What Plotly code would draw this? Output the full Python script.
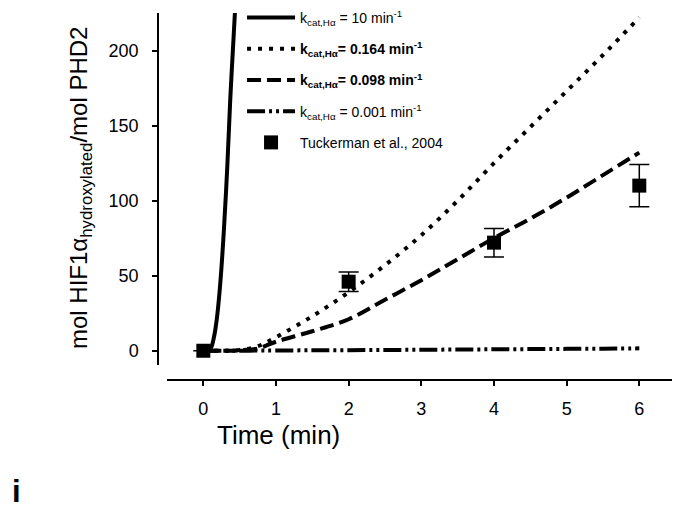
import plotly.graph_objects as go

# ---- data ----
t_fast = [0, 0.05, 0.10, 0.15, 0.19, 0.23, 0.28, 0.33, 0.37, 0.42, 0.44]
y_fast = [0, 0.2, 1.5, 10, 23, 43, 78, 123, 167, 212, 230]

t_curve = [0, 0.25, 0.5, 0.75, 1, 1.5, 2, 2.5, 3, 3.5, 4, 4.5, 5, 5.5, 6]
y_0164 = [0, 0, 0.5, 3, 9, 23, 39, 57, 77, 100, 125, 149, 173, 197, 222]
y_0098 = [0, 0, 0.3, 1.5, 6, 13, 21, 34, 47, 61, 75, 88, 102, 117, 132]
y_0001 = [0, 0, 0.05, 0.1, 0.15, 0.3, 0.4, 0.5, 0.65, 0.8, 0.95, 1.1, 1.25, 1.4, 1.6]

t_exp = [0, 2, 4, 6]
y_exp = [0, 46, 72, 110]
err_exp = [None, 6.5, 9.5, 14]

x_ticks = [0, 1, 2, 3, 4, 5, 6]
y_ticks = [0, 50, 100, 150, 200]

labels = [
    "k<sub>cat,Hα</sub> = 10 min<sup>-1</sup>",
    "<b>k<sub>cat,Hα</sub>= 0.164 min<sup>-1</sup></b>",
    "<b>k<sub>cat,Hα</sub>= 0.098 min<sup>-1</sup></b>",
    "k<sub>cat,Hα</sub> = 0.001 min<sup>-1</sup>",
    "Tuckerman et al., 2004",
]

FONT = "Arial, Liberation Sans, sans-serif"
W, H = 678, 512

fig = go.Figure()
fig.add_trace(go.Scatter(x=t_fast, y=y_fast, mode="lines", name=labels[0], legendgroup="a",
                         line=dict(color="black", width=4, shape="spline")))
fig.add_trace(go.Scatter(x=t_curve, y=y_0164, mode="lines", name=labels[1], legendgroup="b",
                         line=dict(color="black", width=4, dash="4px,7px", shape="spline")))
fig.add_trace(go.Scatter(x=t_curve, y=y_0098, mode="lines", name=labels[2], legendgroup="c",
                         line=dict(color="black", width=4, dash="14px,6px", shape="spline")))
fig.add_trace(go.Scatter(x=t_curve, y=y_0001, mode="lines", name=labels[3], legendgroup="d",
                         line=dict(color="black", width=4, dash="18px,4px,3px,4px,3px,4px", shape="spline")))
fig.add_trace(go.Scatter(x=t_exp, y=y_exp, mode="markers", name=labels[4], legendgroup="e",
                         marker=dict(symbol="square", size=14, color="black"),
                         error_y=dict(type="data", array=err_exp, visible=True, color="black",
                                      thickness=1.5, width=10),
                         cliponaxis=False))

fig.update_layout(
    width=W, height=H,
    margin=dict(l=0, r=0, t=0, b=0),
    paper_bgcolor="white", plot_bgcolor="white",
    font=dict(family=FONT, color="black"),
    showlegend=True,
    legend=dict(x=0.357, y=1 - 2 / H, xanchor="left", yanchor="top",
                bgcolor="rgba(0,0,0,0)", font=dict(size=14, family=FONT),
                tracegroupgap=10, itemwidth=48),
    xaxis=dict(domain=[167 / W, 672 / W], range=[-0.5, 6.45], anchor="free",
               position=1 - 380 / H, showline=True, linecolor="black", linewidth=1.5,
               ticks="outside", ticklen=5, tickwidth=1.5, tickcolor="black",
               tickvals=x_ticks, showgrid=False, zeroline=False,
               tickfont=dict(size=18), ticklabelstandoff=8),
    yaxis=dict(domain=[1 - 365 / H, 1 - 13 / H], range=[-9.5, 225], anchor="free",
               position=158 / W, showline=True, linecolor="black", linewidth=1.5,
               ticks="outside", ticklen=5, tickwidth=1.5, tickcolor="black",
               tickvals=y_ticks, showgrid=False, zeroline=False,
               tickfont=dict(size=18), ticklabelstandoff=10),
)

fig.add_annotation(text="Time (min)", xref="paper", yref="paper",
                   x=278 / W, y=1 - 435 / H, showarrow=False,
                   font=dict(size=26, family=FONT), xanchor="center", yanchor="middle")
fig.add_annotation(text="mol HIF1α<sub>hydroxylated</sub>/mol PHD2", xref="paper", yref="paper",
                   x=80 / W, y=1 - 188 / H, showarrow=False, textangle=-90,
                   font=dict(size=24, family=FONT), xanchor="center", yanchor="middle")
fig.add_annotation(text="<b>i</b>", xref="paper", yref="paper",
                   x=10 / W, y=1 - 491 / H, showarrow=False,
                   font=dict(size=31, family=FONT), xanchor="left", yanchor="middle")

fig.write_html("out.html")
